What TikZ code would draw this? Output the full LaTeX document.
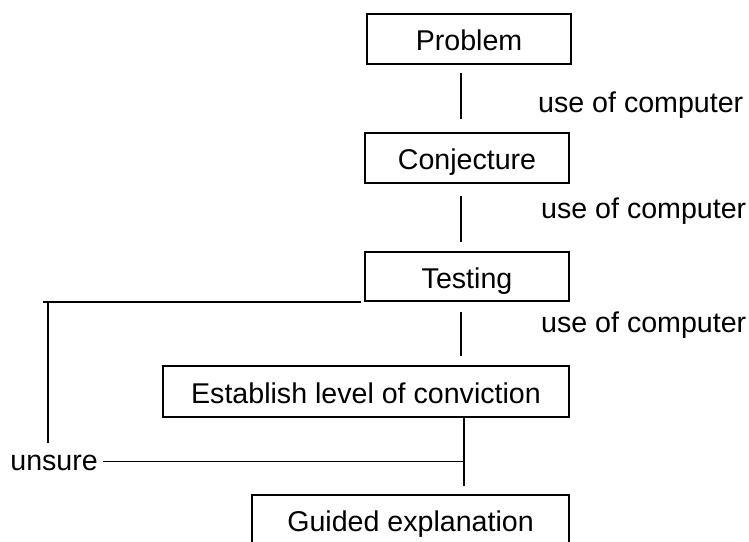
\documentclass[tikz,border=0pt]{standalone}
\usepackage{fontspec}
\setmainfont{Liberation Sans}
\begin{document}
\begin{tikzpicture}[x=1pt,y=-1pt,
  every node/.style={font=\fontsize{28.6}{34}\selectfont, inner sep=0pt},
  stepbox/.style={draw, line width=1.6pt, text height=23pt, text depth=0pt},
  conn/.style={line width=1.6pt}]
\useasboundingbox (0,0) rectangle (749,541);
\node[stepbox, minimum width=204pt, minimum height=50pt] (P) at (469,39) {Problem};
\node[stepbox, minimum width=204pt, minimum height=50pt] (C) at (467,158) {Conjecture};
\node[stepbox, minimum width=204pt, minimum height=49pt] (T) at (467,276.5) {Testing};
\node[stepbox, minimum width=406pt, minimum height=51pt] (E) at (366,391.5) {Establish level of conviction};
\node[stepbox, minimum width=317pt, minimum height=50pt] (G) at (410.5,520) {Guided explanation};
\node[anchor=base west] (L1) at (538,112) {use of computer};
\node[anchor=base west] (L2) at (541,218) {use of computer};
\node[anchor=base west] (L3) at (541,332) {use of computer};
\node[anchor=base east] (U) at (98,470) {unsure};
\coordinate (ax) at (461,0);
\coordinate (bx) at (464,0);
\coordinate (lx) at (48,0);
\coordinate (uy) at (0,461.5);
\draw[conn, shorten <=8pt, shorten >=13pt] (P.south -| ax) -- (C.north -| ax);
\draw[conn, shorten <=12pt, shorten >=9pt] (C.south -| ax) -- (T.north -| ax);
\draw[conn, shorten <=10pt, shorten >=9pt] (T.south -| ax) -- (E.north -| ax);
\coordinate (J) at (E.south -| bx);
\coordinate (K) at (bx |- uy);
\draw[conn, shorten >=8pt] (J) -- (G.north -| bx);
\draw[conn] ([xshift=5pt]U.east |- K) -- (K);
\coordinate (Lt) at (T.south -| lx);
\draw[conn] ([xshift=-5pt]Lt) -- ([xshift=-3pt]T.south west);
\draw[conn] (Lt) -- ++(0,141);
\end{tikzpicture}
\end{document}
